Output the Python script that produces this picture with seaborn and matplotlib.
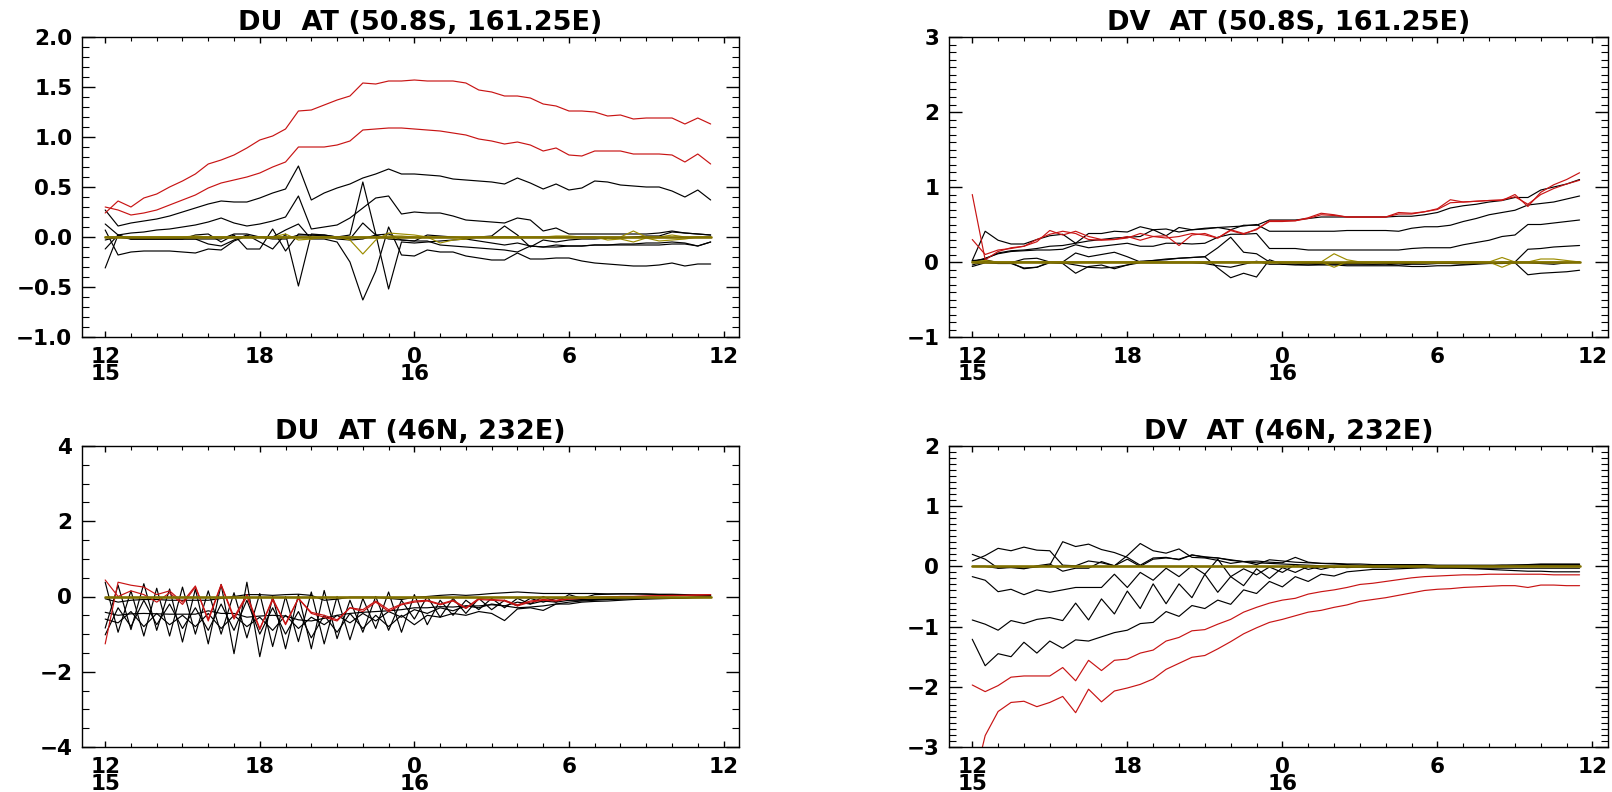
import numpy as np
import pandas as pd
import seaborn as sns
import matplotlib
matplotlib.use("Agg")
import matplotlib.pyplot as plt
from matplotlib.ticker import MultipleLocator, FuncFormatter

sns.set_style("ticks")
plt.rcParams['font.family'] = ['DejaVu Sans']
plt.rcParams['font.weight'] = 'bold'
plt.rcParams['axes.linewidth'] = 1.0
for key in ['text.color', 'axes.labelcolor', 'axes.edgecolor', 'xtick.color', 'ytick.color']:
    plt.rcParams[key] = 'black'

# half-hourly steps from 12Z day 15 to 11:30Z day 16
hours = np.arange(0, 24, 0.5)
xtick_pos = [0, 6, 12, 18, 24]
xtick_lab = ['12\n15', '18', '0\n16', '6', '12']

# ---------------- DU at (50.8S, 161.25E)
du_s_red1 = [0.24, 0.36, 0.30, 0.39, 0.43, 0.50, 0.56, 0.63, 0.73, 0.77, 0.82, 0.89,
             0.97, 1.01, 1.08, 1.26, 1.27, 1.32, 1.37, 1.41, 1.54, 1.53, 1.56, 1.56,
             1.57, 1.56, 1.56, 1.56, 1.54, 1.47, 1.45, 1.41, 1.41, 1.39, 1.33, 1.31,
             1.26, 1.26, 1.25, 1.21, 1.22, 1.18, 1.19, 1.19, 1.19, 1.13, 1.19, 1.13]
du_s_red2 = [0.30, 0.27, 0.22, 0.24, 0.27, 0.32, 0.37, 0.42, 0.49, 0.54, 0.57, 0.60,
             0.64, 0.70, 0.75, 0.90, 0.90, 0.90, 0.92, 0.96, 1.07, 1.08, 1.09, 1.09,
             1.08, 1.07, 1.06, 1.04, 1.02, 0.98, 0.96, 0.93, 0.95, 0.92, 0.86, 0.89,
             0.82, 0.81, 0.86, 0.86, 0.86, 0.83, 0.83, 0.83, 0.82, 0.75, 0.83, 0.73]
du_s_b1 = [0.27, 0.11, 0.14, 0.16, 0.18, 0.21, 0.25, 0.29, 0.33, 0.36, 0.35, 0.35,
           0.39, 0.44, 0.48, 0.71, 0.37, 0.44, 0.49, 0.53, 0.59, 0.63, 0.68, 0.63,
           0.63, 0.62, 0.61, 0.58, 0.57, 0.56, 0.55, 0.53, 0.59, 0.54, 0.48, 0.53,
           0.47, 0.49, 0.56, 0.55, 0.52, 0.51, 0.50, 0.50, 0.46, 0.40, 0.47, 0.37]
du_s_b2 = [0.13, 0.02, 0.04, 0.05, 0.07, 0.08, 0.10, 0.12, 0.15, 0.19, 0.14, 0.11,
           0.13, 0.16, 0.20, 0.41, 0.08, 0.10, 0.12, 0.19, 0.29, 0.39, 0.41, 0.23,
           0.25, 0.24, 0.24, 0.21, 0.17, 0.16, 0.15, 0.14, 0.19, 0.17, 0.06, 0.09,
           0.03, 0.03, 0.03, 0.03, 0.03, 0.03, 0.03, 0.04, 0.06, 0.04, 0.03, 0.02]
du_s_b3 = [-0.12, 0.02, -0.02, -0.02, -0.02, -0.02, -0.02, -0.02, -0.07, -0.09, -0.03, 0.02,
           -0.05, -0.12, 0.03, -0.49, 0.03, 0.02, 0.00, 0.02, 0.55, 0.03, -0.52, -0.05,
           -0.06, -0.05, -0.04, -0.03, -0.02, -0.04, -0.06, -0.08, -0.06, -0.09, -0.10, -0.08,
           -0.09, -0.09, -0.08, -0.08, -0.07, -0.07, -0.06, -0.06, -0.05, -0.06, -0.09, -0.05]
du_s_b4 = [-0.31, 0.02, -0.02, -0.02, -0.02, -0.02, -0.02, -0.02, -0.02, -0.02, 0.03, 0.03,
           0.00, 0.00, 0.07, 0.13, -0.02, -0.02, -0.05, -0.25, -0.63, -0.34, 0.10, -0.18,
           -0.19, -0.13, -0.15, -0.15, -0.19, -0.21, -0.23, -0.23, -0.16, -0.22, -0.22, -0.21,
           -0.21, -0.24, -0.26, -0.27, -0.28, -0.29, -0.29, -0.28, -0.26, -0.29, -0.27, -0.27]
du_s_b5 = [0.07, -0.18, -0.15, -0.14, -0.14, -0.14, -0.15, -0.16, -0.12, -0.13, -0.04, 0.01,
           0.00, -0.02, -0.02, 0.02, 0.02, 0.02, 0.00, -0.02, 0.14, 0.02, -0.02, -0.03,
           -0.04, -0.04, -0.08, -0.09, -0.10, -0.11, -0.12, -0.13, -0.15, -0.09, -0.10, -0.10,
           -0.09, -0.09, -0.08, -0.08, -0.08, -0.08, -0.08, -0.08, -0.07, -0.07, -0.09, -0.05]
du_s_b6 = [-0.03, 0.00, -0.02, -0.02, -0.02, -0.02, -0.02, 0.02, 0.03, -0.05, 0.02, -0.12,
           -0.12, 0.08, -0.14, 0.03, 0.02, 0.01, -0.02, -0.03, -0.02, 0.02, 0.03, -0.03,
           -0.04, 0.02, 0.01, 0.00, -0.01, 0.00, 0.01, 0.11, 0.02, -0.10, -0.03, -0.05,
           -0.03, -0.02, -0.02, -0.01, -0.01, 0.00, 0.01, 0.01, 0.05, 0.04, 0.03, 0.02]
du_s_ol1 = [0, 0, 0, 0, 0, 0, 0, 0.01, 0, 0, 0, 0,
            0, 0, 0.03, -0.03, -0.02, 0, 0, -0.03, -0.17, -0.03, 0.04, 0.03,
            0.02, 0, -0.06, -0.03, -0.02, 0, 0, 0, 0, 0, 0, 0.01,
            0.01, 0, 0, -0.03, -0.02, -0.05, -0.01, -0.04, -0.03, -0.02, 0, 0]
du_s_ol2 = [0, 0, 0, 0, 0, 0, 0, 0, 0, 0, 0, 0,
            0, 0, 0, 0, 0, 0, 0, 0, 0, 0, 0.01, 0.01,
            0, 0, 0, 0, 0, 0, 0, 0, 0, 0, 0, 0,
            0, 0, 0, 0, 0, 0.06, 0, 0, 0.02, 0, 0, 0]

# ---------------- DV at (50.8S, 161.25E)
dv_s_red1 = [0.90, 0.03, 0.14, 0.19, 0.21, 0.27, 0.42, 0.36, 0.41, 0.34, 0.30, 0.30,
             0.32, 0.38, 0.34, 0.35, 0.22, 0.36, 0.38, 0.32, 0.43, 0.38, 0.43, 0.55,
             0.55, 0.55, 0.59, 0.65, 0.63, 0.60, 0.60, 0.60, 0.60, 0.66, 0.65, 0.67,
             0.71, 0.83, 0.80, 0.81, 0.82, 0.82, 0.90, 0.74, 0.93, 1.03, 1.10, 1.19]
dv_s_red2 = [0.30, 0.10, 0.16, 0.18, 0.21, 0.30, 0.37, 0.41, 0.38, 0.30, 0.29, 0.30,
             0.34, 0.29, 0.34, 0.32, 0.34, 0.38, 0.36, 0.32, 0.42, 0.37, 0.44, 0.54,
             0.54, 0.55, 0.58, 0.63, 0.62, 0.60, 0.60, 0.60, 0.60, 0.64, 0.64, 0.67,
             0.70, 0.79, 0.80, 0.81, 0.82, 0.83, 0.87, 0.77, 0.90, 0.98, 1.04, 1.09]
dv_s_b1 = [0.02, 0.41, 0.29, 0.24, 0.24, 0.30, 0.35, 0.37, 0.25, 0.38, 0.38, 0.41,
           0.40, 0.47, 0.43, 0.35, 0.46, 0.43, 0.44, 0.46, 0.43, 0.49, 0.49, 0.56,
           0.56, 0.56, 0.58, 0.60, 0.60, 0.60, 0.60, 0.60, 0.60, 0.61, 0.61, 0.63,
           0.66, 0.72, 0.75, 0.77, 0.80, 0.82, 0.86, 0.86, 0.96, 1.00, 1.04, 1.10]
dv_s_b2 = [0.01, 0.04, 0.12, 0.15, 0.16, 0.18, 0.21, 0.22, 0.25, 0.28, 0.30, 0.32,
           0.33, 0.34, 0.43, 0.44, 0.40, 0.43, 0.45, 0.46, 0.47, 0.48, 0.50, 0.41,
           0.41, 0.41, 0.41, 0.41, 0.41, 0.42, 0.42, 0.42, 0.42, 0.41, 0.45, 0.47,
           0.47, 0.49, 0.54, 0.58, 0.63, 0.66, 0.69, 0.76, 0.78, 0.80, 0.84, 0.88]
dv_s_b3 = [0.00, 0.05, 0.11, 0.14, 0.15, 0.16, 0.16, 0.17, 0.23, 0.19, 0.21, 0.23,
           0.25, 0.21, 0.21, 0.25, 0.25, 0.24, 0.25, 0.33, 0.37, 0.37, 0.38, 0.18,
           0.18, 0.18, 0.16, 0.16, 0.16, 0.16, 0.16, 0.16, 0.16, 0.16, 0.18, 0.19,
           0.19, 0.19, 0.23, 0.26, 0.29, 0.34, 0.36, 0.50, 0.50, 0.52, 0.54, 0.56]
dv_s_b4 = [0.02, 0.03, -0.01, -0.01, 0.04, 0.05, 0.00, 0.00, 0.12, 0.07, 0.10, 0.13,
           0.07, 0.00, 0.02, 0.03, 0.05, 0.06, 0.07, 0.19, 0.33, 0.13, 0.11, 0.00,
           -0.01, -0.01, -0.02, -0.02, -0.03, -0.03, -0.03, -0.03, -0.02, -0.02, -0.02, -0.01,
           -0.01, 0.00, 0.00, 0.00, -0.01, 0.00, 0.00, 0.17, 0.18, 0.20, 0.21, 0.22]
dv_s_b5 = [-0.04, 0.01, -0.01, -0.01, -0.09, -0.07, -0.01, -0.02, -0.15, -0.06, -0.04, -0.09,
           -0.04, 0.01, 0.02, 0.04, 0.05, 0.06, 0.07, -0.08, -0.21, -0.15, -0.20, 0.03,
           -0.03, -0.03, -0.04, -0.04, -0.04, -0.05, -0.05, -0.05, -0.05, -0.05, -0.06, -0.06,
           -0.05, -0.05, -0.04, -0.03, -0.02, -0.02, -0.01, -0.17, -0.15, -0.14, -0.13, -0.11]
dv_s_b6 = [-0.06, -0.01, -0.02, -0.02, -0.08, -0.07, 0.00, -0.01, -0.04, -0.07, -0.08, -0.07,
           -0.04, -0.01, -0.01, -0.01, -0.01, -0.01, -0.02, -0.05, -0.07, -0.03, 0.01, -0.03,
           -0.03, -0.04, -0.04, -0.03, -0.02, -0.02, -0.02, -0.03, -0.03, -0.04, -0.03, -0.03,
           -0.02, -0.02, -0.03, -0.02, -0.01, -0.01, -0.01, -0.01, -0.02, -0.03, -0.01, 0.00]
dv_s_ol1 = [0, 0.02, 0, 0, 0, 0, 0, 0, 0, 0, 0, 0,
            0, 0, 0, 0, 0, 0, 0, 0, 0, 0, 0, 0,
            0, 0, 0, 0, 0.11, 0.03, 0, 0, 0, 0, 0, 0,
            0, 0, 0, 0, 0, 0.06, 0, 0, 0.04, 0.04, 0.02, 0]
dv_s_ol2 = [0, 0, 0, 0, 0, 0, 0, 0, 0, 0, 0, 0,
            0, 0, 0, 0, 0, 0, 0, 0, 0, 0, 0, 0,
            0, 0, 0, 0, -0.07, 0, 0, 0, 0, 0, 0, 0,
            0, 0, 0, 0, 0, -0.07, 0, 0, 0, 0, 0, 0]

# ---------------- DU at (46N, 232E)
du_n_red1 = [0.44, 0.00, 0.15, 0.05, -0.15, 0.10, -0.21, 0.25, -0.60, 0.32, -0.55, 0.05,
             -0.85, -0.10, -0.72, -0.05, -0.42, -0.50, -0.62, -0.30, -0.35, -0.12, -0.35, -0.20,
             -0.12, -0.10, -0.20, -0.10, -0.30, -0.05, -0.08, -0.10, -0.22, -0.12, -0.08, -0.10,
             -0.05, -0.03, -0.02, -0.01, 0.00, 0.00, 0.01, 0.02, 0.02, 0.03, 0.04, 0.05]
du_n_red2 = [-1.26, 0.38, 0.30, 0.25, 0.05, 0.15, -0.15, 0.28, -0.65, 0.30, -0.60, 0.00,
             -0.88, -0.05, -0.75, -0.05, -0.45, -0.55, -0.65, -0.30, -0.40, -0.15, -0.40, -0.22,
             -0.15, -0.12, -0.22, -0.12, -0.32, -0.08, -0.10, -0.12, -0.25, -0.15, -0.10, -0.12,
             -0.07, -0.05, -0.03, -0.02, 0.00, 0.00, 0.01, 0.02, 0.03, 0.03, 0.04, 0.05]
du_n_b1 = [-0.84, 0.30, -0.88, 0.34, -0.90, 0.20, -1.21, 0.20, -1.26, 0.32, -1.52, 0.38,
           -1.60, 0.00, -1.39, 0.05, -1.39, 0.16, -1.12, -0.10, -0.95, 0.00, -0.90, -0.10,
           -0.60, 0.00, -0.55, -0.05, -0.45, -0.05, -0.35, -0.10, -0.25, -0.05, -0.15, -0.05,
           -0.10, -0.08, -0.07, -0.06, -0.05, -0.05, -0.04, -0.04, -0.03, -0.03, -0.02, -0.02]
du_n_b2 = [0.38, -0.95, 0.15, -1.05, 0.22, -1.05, 0.25, -1.00, 0.15, -1.00, 0.10, -1.10,
           0.08, -1.33, 0.00, -1.20, 0.12, -1.26, 0.00, -1.15, -0.05, -0.85, 0.12, -0.95,
           0.05, -0.75, -0.10, -0.50, -0.10, -0.35, -0.05, -0.30, -0.05, -0.20, 0.00, -0.15,
           0.05, -0.05, 0.05, 0.06, 0.07, 0.07, 0.07, 0.06, 0.06, 0.05, 0.04, 0.03]
du_n_b3 = [-1.02, -0.30, -0.80, -0.10, -0.75, -0.20, -0.85, -0.30, -0.90, -0.20, -0.90, -0.10,
           -1.00, -0.30, -1.00, -0.40, -1.10, -0.50, -0.95, -0.45, -0.85, -0.50, -0.80, -0.50,
           -0.75, -0.50, -0.55, -0.45, -0.50, -0.40, -0.45, -0.64, -0.33, -0.30, -0.37, -0.20,
           -0.20, -0.15, -0.13, -0.12, -0.10, -0.08, -0.07, -0.06, -0.05, -0.04, -0.03, -0.02]
du_n_b4 = [-0.42, -0.50, -0.46, -0.45, -0.46, -0.47, -0.47, -0.47, -0.38, -0.45, -0.45, -0.55,
           -0.52, -0.50, -0.52, -0.62, -0.65, -0.58, -0.50, -0.45, -0.42, -0.40, -0.38, -0.35,
           -0.30, -0.30, -0.27, -0.28, -0.25, -0.25, -0.22, -0.25, -0.30, -0.28, -0.25, -0.20,
           -0.15, -0.12, -0.10, -0.08, -0.07, -0.06, -0.05, -0.04, -0.03, -0.03, -0.02, -0.02]
du_n_b5 = [-0.06, -0.15, -0.10, -0.08, -0.08, -0.10, -0.10, -0.10, -0.10, -0.05, 0.00, 0.05,
           0.05, 0.03, 0.05, 0.06, 0.03, -0.10, -0.07, -0.02, -0.02, -0.02, -0.05, -0.08,
           -0.02, 0.00, 0.03, 0.05, 0.03, 0.05, 0.08, 0.10, 0.12, 0.10, 0.08, 0.08,
           0.08, 0.08, 0.08, 0.07, 0.07, 0.07, 0.06, 0.05, 0.05, 0.04, 0.03, 0.02]
du_n_b6 = [-0.60, -0.70, -0.40, -0.80, -0.45, -0.75, -0.50, -0.80, -0.45, -0.85, -0.50, -0.80,
           -0.55, -0.90, -0.50, -0.85, -0.55, -0.75, -0.50, -0.70, -0.45, -0.65, -0.40, -0.55,
           -0.35, -0.45, -0.30, -0.38, -0.25, -0.30, -0.20, -0.25, -0.15, -0.20, -0.12, -0.15,
           -0.10, -0.10, -0.08, -0.07, -0.06, -0.05, -0.05, -0.04, -0.03, -0.03, -0.02, -0.02]

# ---------------- DV at (46N, 232E)
dv_n_red1 = [-3.70, -2.81, -2.41, -2.26, -2.24, -2.33, -2.26, -2.16, -2.43, -2.04, -2.25, -2.07,
             -2.02, -1.96, -1.87, -1.71, -1.61, -1.51, -1.48, -1.37, -1.25, -1.12, -1.02, -0.93,
             -0.88, -0.82, -0.76, -0.73, -0.68, -0.64, -0.58, -0.55, -0.52, -0.48, -0.44, -0.40,
             -0.38, -0.37, -0.35, -0.34, -0.33, -0.32, -0.32, -0.35, -0.31, -0.31, -0.32, -0.32]
dv_n_red2 = [-1.97, -2.08, -1.98, -1.84, -1.82, -1.82, -1.82, -1.68, -1.90, -1.56, -1.73, -1.56,
             -1.54, -1.44, -1.39, -1.24, -1.18, -1.07, -1.05, -0.96, -0.88, -0.76, -0.68, -0.61,
             -0.56, -0.53, -0.46, -0.42, -0.39, -0.35, -0.30, -0.28, -0.25, -0.22, -0.19, -0.17,
             -0.16, -0.15, -0.14, -0.14, -0.13, -0.13, -0.13, -0.13, -0.13, -0.14, -0.14, -0.14]
dv_n_b1 = [-1.21, -1.65, -1.45, -1.50, -1.26, -1.44, -1.24, -1.36, -1.22, -1.24, -1.17, -1.10,
           -1.06, -0.95, -0.93, -0.75, -0.83, -0.65, -0.70, -0.56, -0.63, -0.39, -0.45, -0.25,
           -0.34, -0.17, -0.25, -0.13, -0.16, -0.09, -0.07, -0.05, -0.05, -0.04, -0.03, -0.02,
           -0.02, -0.02, -0.03, -0.04, -0.05, -0.06, -0.07, -0.08, -0.08, -0.09, -0.09, -0.09]
dv_n_b2 = [-0.89, -0.96, -1.06, -0.90, -0.95, -0.88, -0.85, -0.90, -0.61, -0.89, -0.54, -0.79,
           -0.41, -0.70, -0.29, -0.62, -0.29, -0.52, -0.13, -0.43, -0.17, -0.32, -0.04, -0.20,
           -0.02, -0.10, 0.00, -0.05, 0.00, -0.02, -0.01, -0.01, 0.00, 0.00, 0.01, 0.01,
           0.01, 0.00, 0.00, 0.00, 0.00, 0.00, 0.00, 0.00, 0.00, 0.00, 0.00, 0.00]
dv_n_b3 = [-0.17, -0.23, -0.42, -0.38, -0.47, -0.39, -0.43, -0.39, -0.35, -0.35, -0.35, -0.13,
           -0.35, -0.10, -0.23, -0.03, -0.17, 0.01, -0.13, 0.12, -0.17, -0.04, -0.14, -0.01,
           -0.10, 0.03, -0.05, 0.00, -0.02, 0.00, 0.00, 0.01, 0.01, 0.01, 0.01, 0.01,
           0.01, 0.01, 0.01, 0.01, 0.01, 0.02, 0.02, 0.02, 0.02, 0.02, 0.02, 0.02]
dv_n_b4 = [0.20, 0.12, -0.03, -0.01, -0.03, -0.01, 0.02, 0.41, 0.33, 0.37, 0.28, 0.23,
           0.15, 0.02, 0.14, 0.15, 0.11, 0.19, 0.15, 0.14, 0.11, 0.08, 0.09, 0.07,
           0.06, 0.15, 0.07, 0.05, 0.05, 0.04, 0.04, 0.03, 0.03, 0.03, 0.03, 0.03,
           0.02, 0.02, 0.02, 0.02, 0.02, 0.02, 0.02, 0.02, 0.03, 0.03, 0.03, 0.03]
dv_n_b5 = [0.09, 0.18, 0.30, 0.26, 0.32, 0.27, 0.26, 0.02, 0.01, 0.09, 0.06, 0.01,
           0.18, 0.38, 0.26, 0.22, 0.29, 0.15, 0.14, 0.10, 0.05, 0.08, 0.03, 0.11,
           0.09, 0.07, 0.06, 0.05, 0.04, 0.03, 0.02, 0.01, 0.00, 0.00, 0.00, 0.00,
           0.00, 0.01, 0.01, 0.01, 0.01, 0.01, 0.02, 0.03, 0.04, 0.04, 0.04, 0.04]
dv_n_b6 = [0.00, 0.00, -0.03, -0.02, -0.04, 0.01, 0.04, -0.08, -0.03, -0.03, 0.08, 0.01,
           0.12, 0.00, 0.12, 0.14, 0.12, 0.19, 0.16, 0.14, 0.10, 0.08, 0.06, 0.05,
           0.04, 0.03, 0.02, 0.01, 0.00, 0.00, -0.01, -0.02, -0.02, -0.02, -0.02, -0.02,
           -0.03, -0.03, -0.03, -0.03, -0.03, -0.03, -0.03, -0.03, -0.03, -0.03, -0.03, -0.03]

# reference (zero) member drawn in every panel
zero_ref = [0.0] * 48

BLACK = '#000000'
RED = '#c81414'
OLIVE = '#807000'
OLIVE_THIN = '#9c8c00'


def member_frame(series):
    parts = []
    for name, vals in series:
        n = len(vals)
        if n != len(hours):
            print('length mismatch', name, n)
        parts.append(pd.DataFrame({'hour': hours[:n], 'value': vals, 'member': name}))
    return pd.concat(parts, ignore_index=True)


def draw_panel(ax, blacks, reds, olives, title, ylim, major, minor, fmt):
    series = [(f'b{i}', v) for i, v in enumerate(blacks)]
    series += [(f'r{i}', v) for i, v in enumerate(reds)]
    series += [(f'o{i}', v) for i, v in enumerate(olives)]
    series += [('z', zero_ref)]
    df = member_frame(series)
    order = [s[0] for s in series]
    colours = {'b': BLACK, 'r': RED, 'o': OLIVE_THIN, 'z': OLIVE}
    pal = {m: colours[m[0]] for m in order}
    widths = {m: (1.9 if m == 'z' else 0.85) for m in order}
    sns.lineplot(data=df, x='hour', y='value', hue='member', size='member',
                 hue_order=order, size_order=order, palette=pal, sizes=widths,
                 estimator=None, legend=False, ax=ax)
    ax.set_xlim(-0.9, 24.6)
    ax.set_ylim(*ylim)
    ax.set_xticks(xtick_pos)
    ax.set_xticklabels(xtick_lab, linespacing=0.85)
    ax.xaxis.set_minor_locator(MultipleLocator(1))
    ax.yaxis.set_major_locator(MultipleLocator(major))
    ax.yaxis.set_minor_locator(MultipleLocator(minor))
    ax.yaxis.set_major_formatter(FuncFormatter(lambda v, p: fmt.format(v).replace('-', '\u2212')))
    ax.tick_params(axis='x', which='major', direction='in', length=4.5, width=1.0,
                   top=True, bottom=True, labelsize=15.5, pad=7)
    ax.tick_params(axis='x', which='minor', direction='in', length=3, width=0.8,
                   top=True, bottom=True)
    ax.tick_params(axis='y', which='major', direction='in', length=9.5, width=1.0,
                   left=True, right=True, labelsize=15.5, pad=7)
    ax.tick_params(axis='y', which='minor', direction='in', length=5, width=0.8,
                   left=True, right=True)
    for lab in ax.get_xticklabels() + ax.get_yticklabels():
        lab.set_fontweight('bold')
    ax.set_xlabel('')
    ax.set_ylabel('')
    ax.set_title(title, fontsize=19.5, fontweight='bold', pad=5, x=0.515)


fig = plt.figure(figsize=(16.12, 7.92), dpi=100)
W, H = 1612.0, 792.0
ax1 = fig.add_axes([82 / W, 1 - 337 / H, 657 / W, 300 / H])
ax2 = fig.add_axes([949 / W, 1 - 337 / H, 659 / W, 300 / H])
ax3 = fig.add_axes([82 / W, 1 - 747 / H, 657 / W, 301 / H])
ax4 = fig.add_axes([949 / W, 1 - 747 / H, 659 / W, 301 / H])

draw_panel(ax1, [du_s_b1, du_s_b2, du_s_b3, du_s_b4, du_s_b5, du_s_b6],
           [du_s_red1, du_s_red2], [du_s_ol1, du_s_ol2],
           'DU  AT (50.8S, 161.25E)', (-1.0, 2.0), 0.5, 0.1, '{:.1f}')
draw_panel(ax2, [dv_s_b1, dv_s_b2, dv_s_b3, dv_s_b4, dv_s_b5, dv_s_b6],
           [dv_s_red1, dv_s_red2], [dv_s_ol1, dv_s_ol2],
           'DV  AT (50.8S, 161.25E)', (-1.0, 3.0), 1, 0.1, '{:.0f}')
draw_panel(ax3, [du_n_b1, du_n_b2, du_n_b3, du_n_b4, du_n_b5, du_n_b6],
           [du_n_red1, du_n_red2], [],
           'DU  AT (46N, 232E)', (-4.0, 4.0), 2, 0.5, '{:.0f}')
draw_panel(ax4, [dv_n_b1, dv_n_b2, dv_n_b3, dv_n_b4, dv_n_b5, dv_n_b6],
           [dv_n_red1, dv_n_red2], [],
           'DV  AT (46N, 232E)', (-3.0, 2.0), 1, 0.1, '{:.0f}')

fig.savefig('out.png', dpi=100)
